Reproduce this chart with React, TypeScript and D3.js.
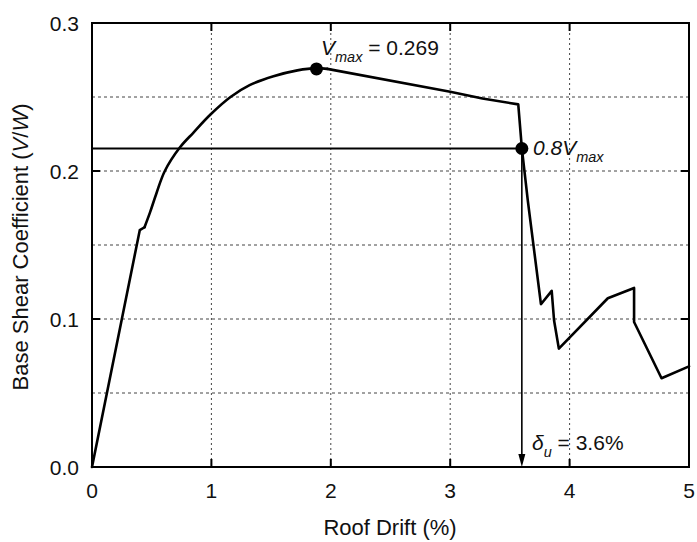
import React from "react";
import * as d3 from "d3";

const driftPct = [0, 0.4, 0.44, 0.486, 0.54, 0.61, 0.737, 0.85, 0.99, 1.16, 1.32, 1.52, 1.72, 1.88, 1.97, 3.0, 3.27, 3.57, 3.6, 3.65, 3.76, 3.85, 3.87, 3.91, 4.32, 4.54, 4.54, 4.77, 5.0];
const shearCoef = [0, 0.16, 0.162, 0.172, 0.185, 0.2, 0.216, 0.226, 0.238, 0.25, 0.258, 0.264, 0.268, 0.2695, 0.269, 0.2535, 0.249, 0.245, 0.2155, 0.18, 0.11, 0.119, 0.099, 0.08, 0.114, 0.121, 0.098, 0.06, 0.068];
const vmax = { x: 1.88, y: 0.269 };
const v80 = { x: 3.6, y: 0.2152 };
const xTicks = [0, 1, 2, 3, 4, 5];
const yTicks = [0, 0.1, 0.2, 0.3];
const yGrid = [0.05, 0.1, 0.15, 0.2, 0.25];
const xGrid = [1, 2, 3, 4];

const W = 697, H = 542;
const M = { left: 92, right: 689, top: 23, bottom: 467 };
const FONT = "'Liberation Sans', Arial, Helvetica, sans-serif";

export default function App() {
  const x = d3.scaleLinear().domain([0, 5]).range([M.left, M.right]);
  const y = d3.scaleLinear().domain([0, 0.3]).range([M.bottom, M.top]);
  const pts: [number, number][] = driftPct.map((d, i) => [d, shearCoef[i]]);
  const lin = d3.line<[number, number]>().x(d => x(d[0])).y(d => y(d[1]));
  const smooth = d3.line<[number, number]>().x(d => x(d[0])).y(d => y(d[1])).curve(d3.curveCatmullRom.alpha(0.5));
  const partA = pts.slice(0, 3);
  const partB = pts.slice(2, 15);
  const partC = pts.slice(14);
  const ax = x(v80.x);
  return (
    <svg width={W} height={H} style={{ position: "absolute", left: 0, top: 0, background: "#fff" }} fontFamily={FONT}>
      <rect x={0} y={0} width={W} height={H} fill="#fff" />
      {yGrid.map(v => (
        <line key={"yg" + v} x1={M.left} x2={M.right} y1={y(v)} y2={y(v)} stroke="#444" strokeWidth={1} strokeDasharray="3,3" />
      ))}
      {xGrid.map(v => (
        <line key={"xg" + v} x1={x(v)} x2={x(v)} y1={M.top} y2={M.bottom} stroke="#444" strokeWidth={1} strokeDasharray="2,3" />
      ))}
      {yTicks.map(v => (
        <g key={"yt" + v}>
          <line x1={M.left} x2={M.left + 8} y1={y(v)} y2={y(v)} stroke="#000" strokeWidth={2} />
          <line x1={M.right} x2={M.right - 8} y1={y(v)} y2={y(v)} stroke="#000" strokeWidth={2} />
          <text x={M.left - 13} y={y(v) + 7.5} fontSize={21} textAnchor="end" fill="#111">{v.toFixed(1)}</text>
        </g>
      ))}
      {xTicks.map(v => (
        <g key={"xt" + v}>
          <line x1={x(v)} x2={x(v)} y1={M.bottom} y2={M.bottom - 8} stroke="#000" strokeWidth={2} />
          <line x1={x(v)} x2={x(v)} y1={M.top} y2={M.top + 8} stroke="#000" strokeWidth={2} />
          <text x={x(v)} y={M.bottom + 31} fontSize={21} textAnchor="middle" fill="#111">{v}</text>
        </g>
      ))}
      <rect x={M.left} y={M.top} width={M.right - M.left} height={M.bottom - M.top} fill="none" stroke="#000" strokeWidth={2} />
      <line x1={x(0)} x2={ax} y1={y(v80.y)} y2={y(v80.y)} stroke="#000" strokeWidth={2} />
      <line x1={ax} x2={ax} y1={y(v80.y)} y2={y(0) - 10} stroke="#000" strokeWidth={1.6} />
      <path d={`M${ax - 3.5},${y(0) - 13} L${ax + 3.5},${y(0) - 13} L${ax},${y(0)} Z`} fill="#000" />
      <path d={lin(partA) || ""} fill="none" stroke="#000" strokeWidth={2.6} strokeLinejoin="round" strokeLinecap="round" />
      <path d={smooth(partB) || ""} fill="none" stroke="#000" strokeWidth={2.6} strokeLinejoin="round" strokeLinecap="round" />
      <path d={lin(partC) || ""} fill="none" stroke="#000" strokeWidth={2.6} strokeLinejoin="round" strokeLinecap="round" />
      <circle cx={x(vmax.x)} cy={y(vmax.y)} r={6.5} fill="#000" />
      <circle cx={ax} cy={y(v80.y)} r={6.5} fill="#000" />
      <text x={321} y={55} fontSize={21} fill="#111">
        <tspan fontStyle="italic">V</tspan>
        <tspan fontStyle="italic" fontSize={14.5} dy={7}>max</tspan>
        <tspan dy={-7}> = 0.269</tspan>
      </text>
      <text x={533} y={155} fontSize={21} fill="#111">
        <tspan fontStyle="italic">0.8V</tspan>
        <tspan fontStyle="italic" fontSize={14.5} dy={7}>max</tspan>
      </text>
      <text x={532} y={450} fontSize={21} fill="#111">
        <tspan fontStyle="italic">δ</tspan>
        <tspan fontStyle="italic" fontSize={14.5} dy={7}>u</tspan>
        <tspan dy={-7}> = 3.6%</tspan>
      </text>
      <text x={390} y={535} fontSize={22} textAnchor="middle" fill="#111">Roof Drift (%)</text>
      <text transform={`translate(28,247) rotate(-90)`} fontSize={22} textAnchor="middle" fill="#111">
        Base Shear Coefficient (<tspan fontStyle="italic">V</tspan>/<tspan fontStyle="italic">W</tspan>)
      </text>
    </svg>
  );
}
